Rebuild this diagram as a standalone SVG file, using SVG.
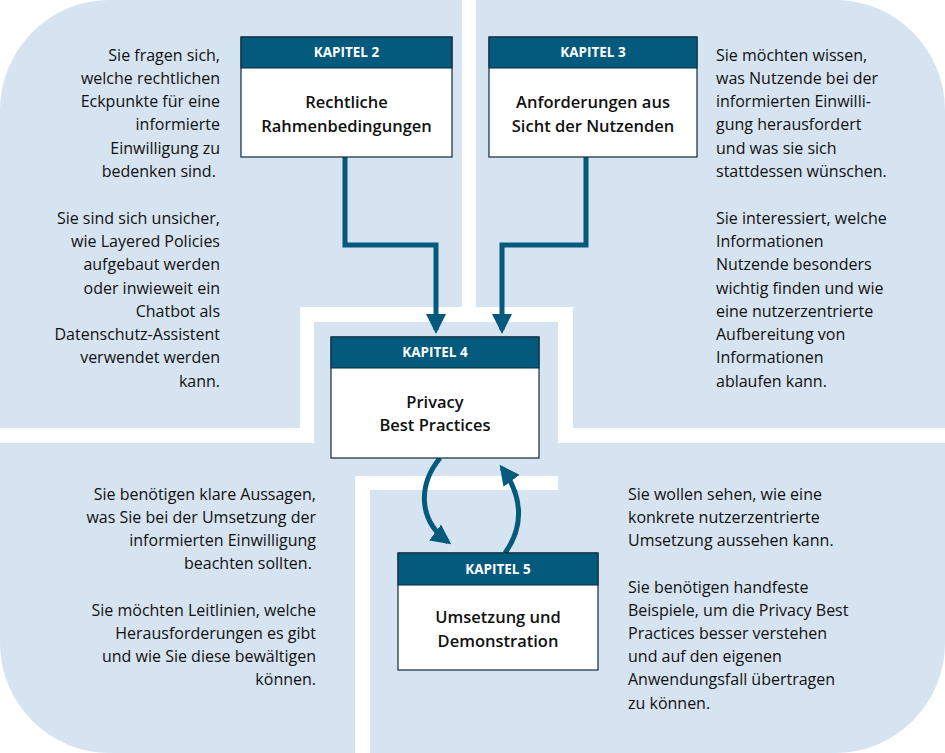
<svg xmlns="http://www.w3.org/2000/svg" width="945" height="753" viewBox="0 0 945 753">
<style>
.t{font-family:"Open Sans","Noto Sans",sans-serif;font-size:16px;fill:#111}
.r{text-anchor:end}
.h{font-family:"Open Sans","Noto Sans",sans-serif;font-size:13.5px;font-weight:bold;fill:#fff;text-anchor:middle}
.b{font-family:"Open Sans","Noto Sans",sans-serif;font-size:16.5px;font-weight:600;fill:#111;text-anchor:middle}
.hd{fill:#045a7c;stroke:#0d2a3a;stroke-width:1}
.bd{fill:#fff;stroke:#0d2a3a;stroke-width:1.2}
.c{fill:none;stroke:#045a7c;stroke-width:5}
</style>
<defs>
<marker id="a" viewBox="0 0 10 10" refX="8" refY="5" markerWidth="4" markerHeight="4" orient="auto" markerUnits="strokeWidth"><path d="M0,0L10,5L0,10z" fill="#045a7c"/></marker>
</defs>
<g id="background">
<rect x="0" y="0" width="945" height="753" rx="110" fill="#d6e3f0"/>
<g fill="#fff">
<rect x="462" y="0" width="14" height="307"/>
<rect x="300" y="307" width="273" height="15"/>
<rect x="300" y="307" width="14" height="136"/>
<rect x="558" y="307" width="15" height="136"/>
<rect x="0" y="428" width="314" height="15"/>
<rect x="558" y="428" width="387" height="15"/>
<rect x="355" y="476" width="203" height="14"/>
<rect x="355" y="476" width="15" height="277"/>
</g>
</g>
<g id="texts">
<text class="t r"><tspan x="220" y="61">Sie fragen sich,</tspan><tspan x="220" y="84">welche rechtlichen</tspan><tspan x="220" y="107">Eckpunkte für eine</tspan><tspan x="220" y="130">informierte</tspan><tspan x="220" y="154">Einwilligung zu</tspan><tspan x="220" y="177">bedenken sind.</tspan>
<tspan x="220" y="224">Sie sind sich unsicher,</tspan><tspan x="220" y="247">wie Layered Policies</tspan><tspan x="220" y="270">aufgebaut werden</tspan><tspan x="220" y="294">oder inwieweit ein</tspan><tspan x="220" y="317">Chatbot als</tspan><tspan x="220" y="340">Datenschutz-Assistent</tspan><tspan x="220" y="363">verwendet werden</tspan><tspan x="220" y="387">kann.</tspan></text>
<text class="t"><tspan x="716" y="61">Sie möchten wissen,</tspan><tspan x="716" y="84">was Nutzende bei der</tspan><tspan x="716" y="107">informierten Einwilli-</tspan><tspan x="716" y="130">gung herausfordert</tspan><tspan x="716" y="154">und was sie sich</tspan><tspan x="716" y="177">stattdessen wünschen.</tspan>
<tspan x="716" y="224">Sie interessiert, welche</tspan><tspan x="716" y="247">Informationen</tspan><tspan x="716" y="270">Nutzende besonders</tspan><tspan x="716" y="294">wichtig finden und wie</tspan><tspan x="716" y="317">eine nutzerzentrierte</tspan><tspan x="716" y="340">Aufbereitung von</tspan><tspan x="716" y="363">Informationen</tspan><tspan x="716" y="387">ablaufen kann.</tspan></text>
<text class="t r"><tspan x="316" y="500">Sie benötigen klare Aussagen,</tspan><tspan x="316" y="523">was Sie bei der Umsetzung der</tspan><tspan x="316" y="546">informierten Einwilligung</tspan><tspan x="316" y="569">beachten sollten.</tspan>
<tspan x="316" y="616">Sie möchten Leitlinien, welche</tspan><tspan x="316" y="639">Herausforderungen es gibt</tspan><tspan x="316" y="662">und wie Sie diese bewältigen</tspan><tspan x="316" y="685">können.</tspan></text>
<text class="t"><tspan x="628" y="500">Sie wollen sehen, wie eine</tspan><tspan x="628" y="523">konkrete nutzerzentrierte</tspan><tspan x="628" y="546">Umsetzung aussehen kann.</tspan>
<tspan x="628" y="593">Sie benötigen handfeste</tspan><tspan x="628" y="616">Beispiele, um die Privacy Best</tspan><tspan x="628" y="639">Practices besser verstehen</tspan><tspan x="628" y="662">und auf den eigenen</tspan><tspan x="628" y="685">Anwendungsfall übertragen</tspan><tspan x="628" y="709">zu können.</tspan></text>
</g>
<g id="connectors">
<path class="c" d="M345,157V245H436V330" marker-end="url(#a)"/>
<path class="c" d="M586,157V245H502V330" marker-end="url(#a)"/>
<path class="c" d="M440,458C418,485 418,520 448,542" marker-end="url(#a)"/>
<path class="c" d="M505,553C525,525 522,495 502,468" marker-end="url(#a)"/>
</g>
<g id="k2"><rect class="bd" x="241" y="37" width="211" height="120"/><rect class="hd" x="241" y="37" width="211" height="31"/><text class="h" x="346.5" y="57">KAPITEL 2</text><text class="b" x="346.5" y="108">Rechtliche</text><text class="b" x="346.5" y="132">Rahmenbedingungen</text></g>
<g id="k3"><rect class="bd" x="489" y="37" width="208" height="120"/><rect class="hd" x="489" y="37" width="208" height="31"/><text class="h" x="593" y="57">KAPITEL 3</text><text class="b" x="593" y="108">Anforderungen aus</text><text class="b" x="593" y="132">Sicht der Nutzenden</text></g>
<g id="k4"><rect class="bd" x="331" y="337" width="208" height="121"/><rect class="hd" x="331" y="337" width="208" height="31"/><text class="h" x="435" y="357">KAPITEL 4</text><text class="b" x="435" y="408">Privacy</text><text class="b" x="435" y="431">Best Practices</text></g>
<g id="k5"><rect class="bd" x="398" y="553" width="200" height="117"/><rect class="hd" x="398" y="553" width="200" height="32"/><text class="h" x="498" y="574">KAPITEL 5</text><text class="b" x="498" y="623">Umsetzung und</text><text class="b" x="498" y="647">Demonstration</text></g>
</svg>
